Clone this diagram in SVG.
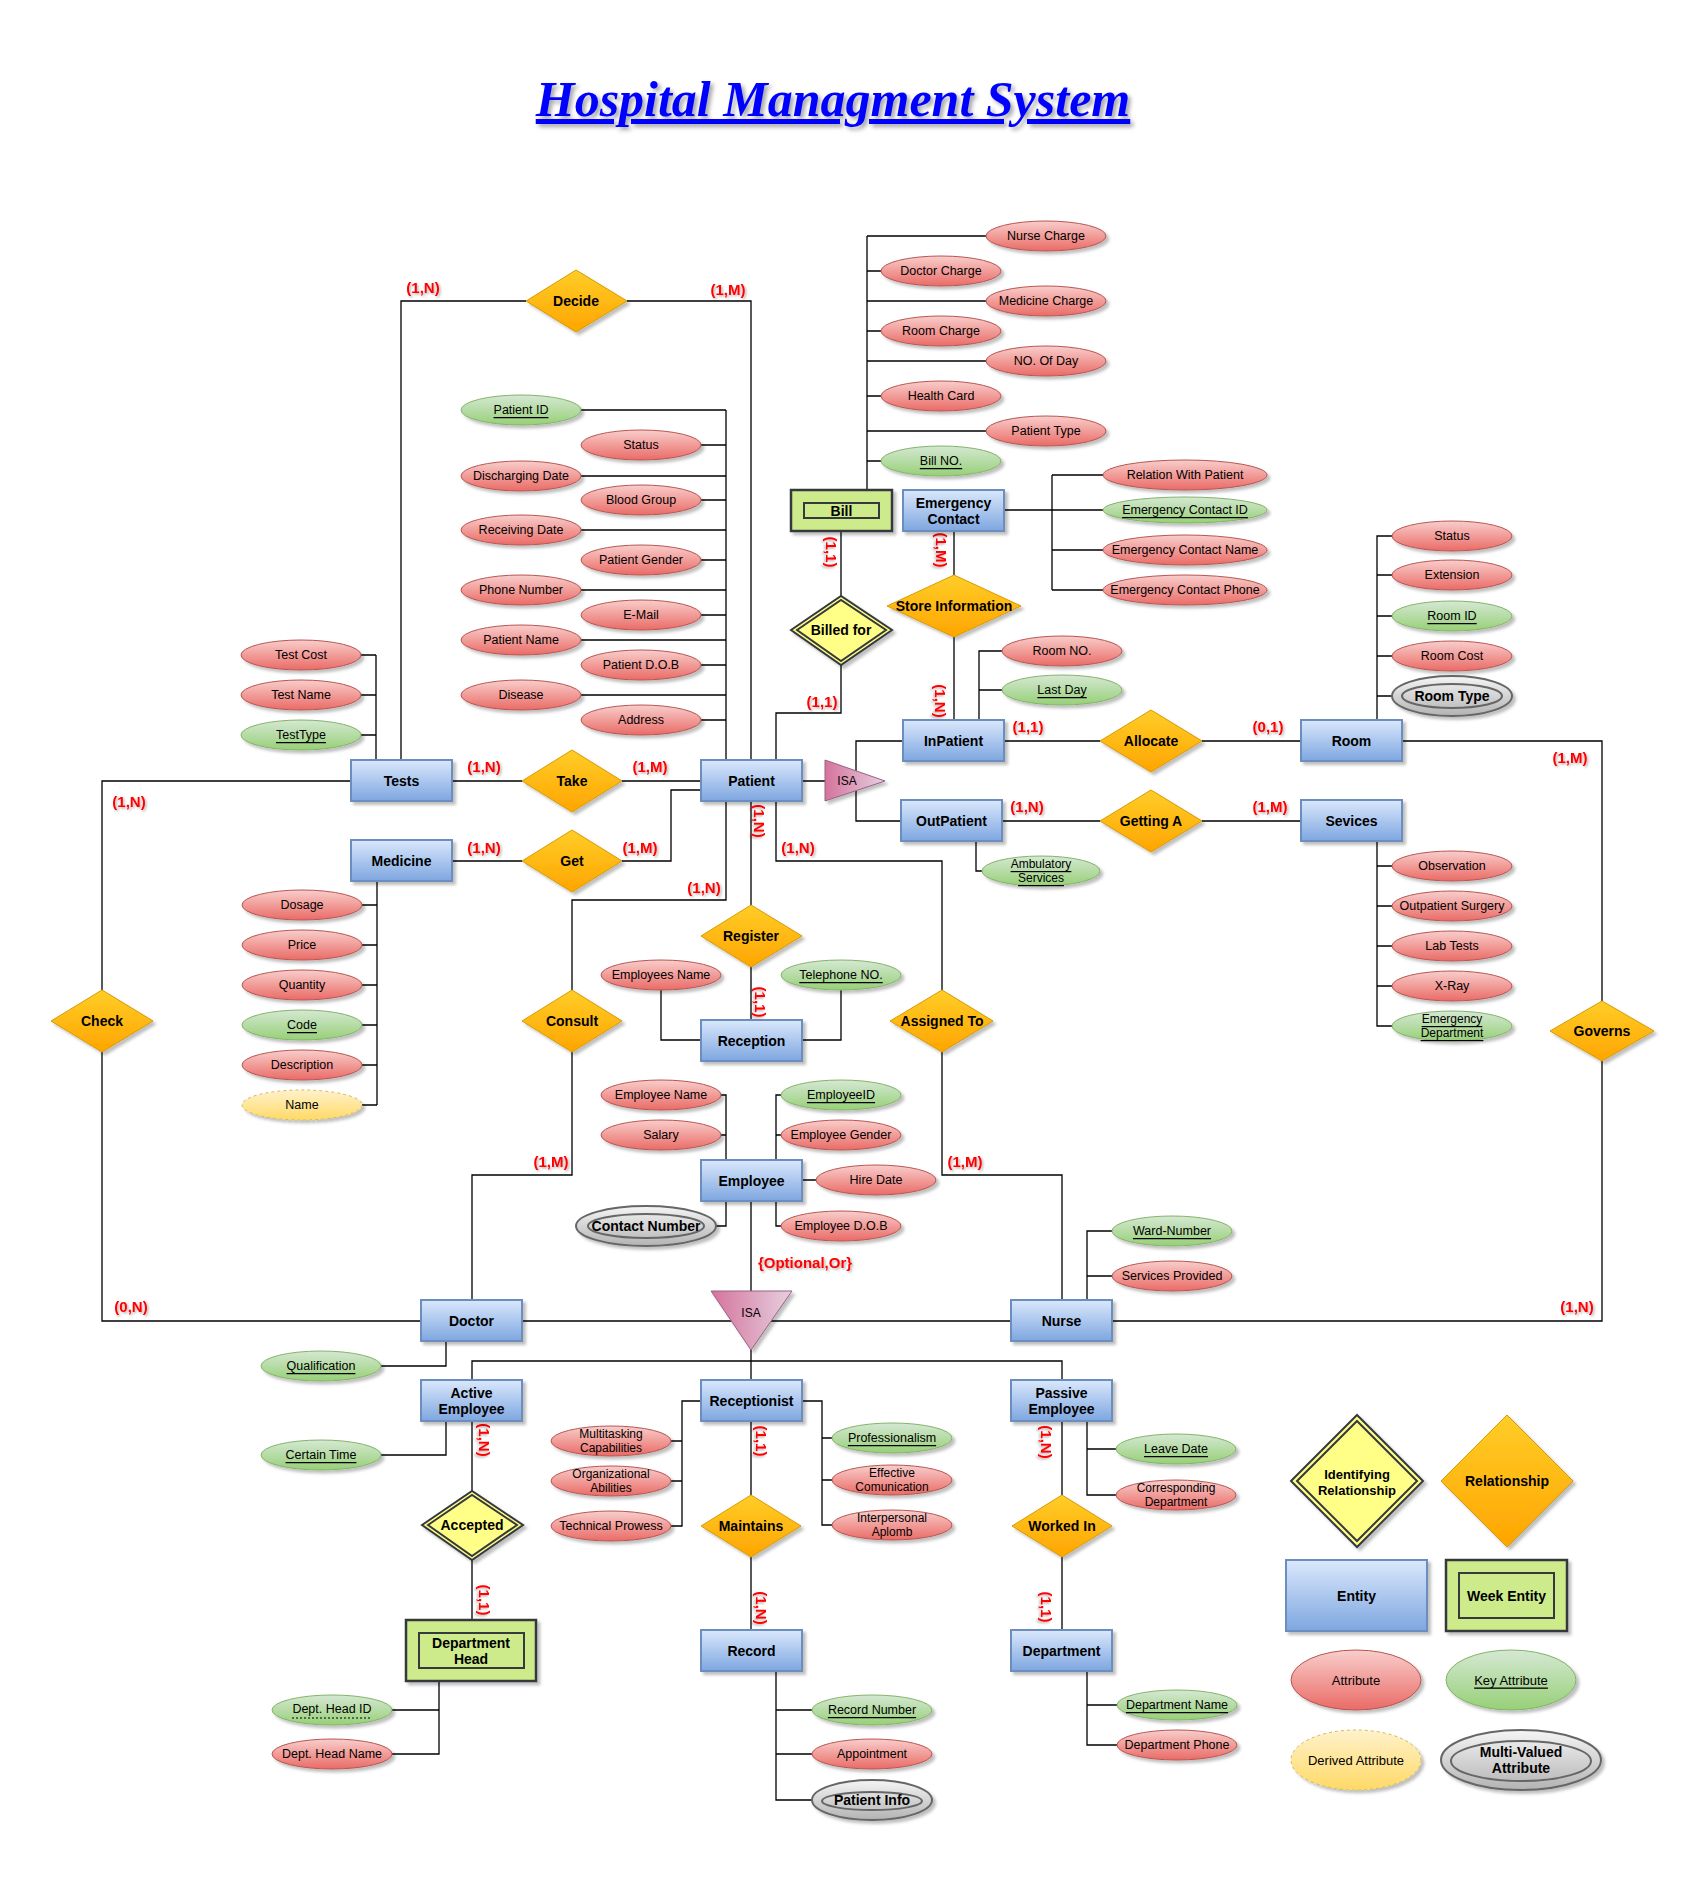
<svg xmlns="http://www.w3.org/2000/svg" width="1708" height="1878" viewBox="0 0 1708 1878">
<defs>
<linearGradient id="gEnt" x1="0" y1="0" x2="0" y2="1"><stop offset="0" stop-color="#dae8fc"/><stop offset="1" stop-color="#7ea6e0"/></linearGradient>
<linearGradient id="gAttr" x1="0" y1="0" x2="0" y2="1"><stop offset="0" stop-color="#f8cecc"/><stop offset="1" stop-color="#ea6b66"/></linearGradient>
<linearGradient id="gKey" x1="0" y1="0" x2="0" y2="1"><stop offset="0" stop-color="#d5e8d4"/><stop offset="1" stop-color="#97d077"/></linearGradient>
<linearGradient id="gRel" x1="0" y1="0" x2="0" y2="1"><stop offset="0" stop-color="#ffcd28"/><stop offset="1" stop-color="#ffa500"/></linearGradient>
<linearGradient id="gDer" x1="0" y1="0" x2="0" y2="1"><stop offset="0" stop-color="#fff2cc"/><stop offset="1" stop-color="#ffd966"/></linearGradient>
<linearGradient id="gMv" x1="0" y1="0" x2="0" y2="1"><stop offset="0" stop-color="#f5f5f5"/><stop offset="1" stop-color="#b3b3b3"/></linearGradient>
<linearGradient id="gIsa" x1="0" y1="0" x2="1" y2="0"><stop offset="0" stop-color="#d5739d"/><stop offset="1" stop-color="#e6d0de"/></linearGradient>
<filter id="sh" x="-20%" y="-30%" width="150%" height="170%"><feDropShadow dx="3" dy="3" stdDeviation="1.5" flood-color="#000" flood-opacity="0.25"/></filter>
<filter id="tsh" x="-20%" y="-40%" width="150%" height="190%"><feDropShadow dx="1.5" dy="1.5" stdDeviation="1" flood-color="#000" flood-opacity="0.3"/></filter>
<filter id="tsh2" x="-10%" y="-30%" width="130%" height="170%"><feDropShadow dx="3" dy="3" stdDeviation="2" flood-color="#000" flood-opacity="0.35"/></filter>
<style>
.ent{fill:url(#gEnt);stroke:#6c8ebf;stroke-width:2;filter:url(#sh)}
.attr{fill:url(#gAttr);stroke:#b85450;stroke-width:1;filter:url(#sh)}
.key{fill:url(#gKey);stroke:#82b366;stroke-width:1;filter:url(#sh)}
.rel{fill:url(#gRel);stroke:#d79b00;stroke-width:1;filter:url(#sh)}
.der{fill:url(#gDer);stroke:#d6b656;stroke-width:1;stroke-dasharray:3 3;filter:url(#sh)}
.mv{fill:url(#gMv);stroke:#666;stroke-width:2;filter:url(#sh)}
.mvi{fill:none;stroke:#666;stroke-width:2}
.weak{fill:#cdeb8b;stroke:#36393d;stroke-width:2.5;filter:url(#sh)}
.weaki{fill:none;stroke:#36393d;stroke-width:2}
.idr{fill:#ffff88;stroke:#36393d;stroke-width:2;filter:url(#sh)}
.idri{fill:none;stroke:#36393d;stroke-width:2}
.isa{fill:url(#gIsa);stroke:#996185;stroke-width:1;filter:url(#sh)}
.c{fill:none;stroke:#000;stroke-width:1.3}
.t{font-family:"Liberation Sans",Arial,sans-serif;text-anchor:middle;dominant-baseline:central;fill:#000}
.te{font-size:14px;font-weight:bold}
.ta{font-size:12.5px}
.t2{font-size:12px}
.tm{font-size:14px;font-weight:bold}
.u{text-decoration:underline}
.card{font-family:"Liberation Sans",Arial,sans-serif;text-anchor:middle;dominant-baseline:central;fill:#ff0000;font-size:15px;font-weight:bold;filter:url(#tsh)}
</style>
</defs>
<rect width="1708" height="1878" fill="#fff"/>

<text id="title" x="833" y="116" font-family="'Liberation Serif','Times New Roman',serif" font-weight="bold" font-style="italic" font-size="50" fill="#0000ff" text-decoration="underline" text-anchor="middle" filter="url(#tsh2)">Hospital Managment System</text>

<g id="connectors">
<path class="c" d="M401 760 V301 H526 M627 301 H751 V760"/>
<path class="c" d="M452 781 H522 M622 781 H701"/>
<path class="c" d="M452 861 H522 M622 861 H671 V790 H701"/>
<path class="c" d="M726 801 V900 H572 V990 M572 1052 V1175 H472 V1300"/>
<path class="c" d="M751 801 V905 M751 967 V1020"/>
<path class="c" d="M776 801 V861 H942 V990 M942 1052 V1175 H1062 V1300"/>
<path class="c" d="M351 781 H102 V990 M102 1052 V1321 H421"/>
<path class="c" d="M1402 741 H1602 V1001 M1602 1061 V1321 H1112"/>
<path class="c" d="M841 531 V596 M841 665 V713 H776 V760"/>
<path class="c" d="M954 531 V575 M954 637 V720"/>
<path class="c" d="M1004 741 H1100 M1202 741 H1301"/>
<path class="c" d="M1002 821 H1100 M1202 821 H1301"/>
<path class="c" d="M802 781 H825 M903 741 H856 V821 H901"/>
<path class="c" d="M751 1201 V1291 M522 1321 H1011 M751 1350 V1380 M472 1380 V1361 H1062 V1380"/>
<path class="c" d="M472 1421 V1491 M472 1560 V1620"/>
<path class="c" d="M751 1421 V1495 M751 1557 V1630"/>
<path class="c" d="M1062 1421 V1495 M1062 1557 V1630"/>
<path class="c" d="M726 410 V760 M581 410 H726 M581 476 H726 M581 530 H726 M581 590 H726 M581 640 H726 M581 695 H726 M701 445 H726 M701 500 H726 M701 560 H726 M701 615 H726 M701 665 H726 M701 720 H726"/>
<path class="c" d="M376 655 V760 M361 655 H376 M361 695 H376 M361 735 H376"/>
<path class="c" d="M377 881 V1105 M362 905 H377 M362 945 H377 M362 985 H377 M362 1025 H377 M362 1065 H377 M362 1105 H377"/>
<path class="c" d="M867 236 V490 M986 236 H867 M881 271 H867 M986 301 H867 M881 331 H867 M986 361 H867 M881 396 H867 M986 431 H867 M881 461 H867"/>
<path class="c" d="M1004 510 H1103 M1052 475 V590 M1103 475 H1052 M1103 550 H1052 M1103 590 H1052"/>
<path class="c" d="M979 720 V651 H1002 M979 690 H1002"/>
<path class="c" d="M976 841 V871 H982"/>
<path class="c" d="M1377 720 V536 H1392 M1377 575 H1392 M1377 616 H1392 M1377 656 H1392 M1377 696 H1392"/>
<path class="c" d="M1377 841 V1026 H1392 M1377 866 H1392 M1377 906 H1392 M1377 946 H1392 M1377 986 H1392"/>
<path class="c" d="M661 990 V1040 H701 M841 990 V1040 H802"/>
<path class="c" d="M726 1160 V1095 H721 M721 1135 H726 M776 1160 V1095 H781 M776 1135 H781 M802 1180 H816 M726 1201 V1226 H716 M776 1201 V1226 H781"/>
<path class="c" d="M1087 1300 V1231 H1112 M1087 1276 H1112"/>
<path class="c" d="M446 1341 V1366 H381"/>
<path class="c" d="M446 1421 V1455 H381"/>
<path class="c" d="M439 1681 V1754 H392 M392 1710 H439"/>
<path class="c" d="M701 1401 H682 V1526 H671 M671 1441 H682 M671 1481 H682"/>
<path class="c" d="M802 1401 H822 V1525 H832 M832 1438 H822 M832 1480 H822"/>
<path class="c" d="M1087 1421 V1495 H1116 M1087 1449 H1116"/>
<path class="c" d="M776 1671 V1800 H812 M812 1710 H776 M812 1754 H776"/>
<path class="c" d="M1087 1671 V1745 H1117 M1087 1705 H1117"/>
</g>

<g id="cardinalities">
<text class="card" x="423" y="287">(1,N)</text>
<text class="card" x="728" y="289">(1,M)</text>
<text class="card" x="484" y="766">(1,N)</text>
<text class="card" x="650" y="766">(1,M)</text>
<text class="card" x="484" y="847">(1,N)</text>
<text class="card" x="640" y="847">(1,M)</text>
<text class="card" x="704" y="887">(1,N)</text>
<text class="card" x="551" y="1161">(1,M)</text>
<text class="card" x="760" y="821" transform="rotate(90 760 821)">(1,N)</text>
<text class="card" x="761" y="1002" transform="rotate(90 761 1002)">(1,1)</text>
<text class="card" x="798" y="847">(1,N)</text>
<text class="card" x="965" y="1161">(1,M)</text>
<text class="card" x="129" y="801">(1,N)</text>
<text class="card" x="131" y="1306">(0,N)</text>
<text class="card" x="1570" y="757">(1,M)</text>
<text class="card" x="1577" y="1306">(1,N)</text>
<text class="card" x="832" y="552" transform="rotate(90 832 552)">(1,1)</text>
<text class="card" x="822" y="701">(1,1)</text>
<text class="card" x="942" y="550" transform="rotate(90 942 550)">(1,M)</text>
<text class="card" x="941" y="701" transform="rotate(90 941 701)">(1,N)</text>
<text class="card" x="1028" y="726">(1,1)</text>
<text class="card" x="1268" y="726">(0,1)</text>
<text class="card" x="1027" y="806">(1,N)</text>
<text class="card" x="1270" y="806">(1,M)</text>
<text class="card" x="485" y="1440" transform="rotate(90 485 1440)">(1,N)</text>
<text class="card" x="485" y="1600" transform="rotate(90 485 1600)">(1,1)</text>
<text class="card" x="762" y="1441" transform="rotate(90 762 1441)">(1,1)</text>
<text class="card" x="762" y="1608" transform="rotate(90 762 1608)">(1,N)</text>
<text class="card" x="1047" y="1442" transform="rotate(90 1047 1442)">(1,N)</text>
<text class="card" x="1047" y="1607" transform="rotate(90 1047 1607)">(1,1)</text>
<text class="card" x="805" y="1262">{Optional,Or}</text>
</g>

<g id="e-tests"><rect class="ent" x="351" y="760" width="101" height="41"/><text class="t te" x="401.5" y="780.5">Tests</text></g>
<g id="e-patient"><rect class="ent" x="701" y="760" width="101" height="41"/><text class="t te" x="751.5" y="780.5">Patient</text></g>
<g id="e-medicine"><rect class="ent" x="351" y="840" width="101" height="41"/><text class="t te" x="401.5" y="860.5">Medicine</text></g>
<g id="e-bill"><rect class="weak" x="791" y="490" width="101" height="41"/><rect class="weaki" x="804" y="503" width="75" height="15"/><text class="t te" x="841.5" y="510.5">Bill</text></g>
<g id="e-emergency-contact"><rect class="ent" x="903" y="490" width="101" height="41"/><text class="t te"><tspan x="953.5" y="503">Emergency</tspan><tspan x="953.5" y="519">Contact</tspan></text></g>
<g id="e-inpatient"><rect class="ent" x="903" y="720" width="101" height="41"/><text class="t te" x="953.5" y="740.5">InPatient</text></g>
<g id="e-outpatient"><rect class="ent" x="901" y="800" width="101" height="41"/><text class="t te" x="951.5" y="820.5">OutPatient</text></g>
<g id="e-room"><rect class="ent" x="1301" y="720" width="101" height="41"/><text class="t te" x="1351.5" y="740.5">Room</text></g>
<g id="e-services"><rect class="ent" x="1301" y="800" width="101" height="41"/><text class="t te" x="1351.5" y="820.5">Sevices</text></g>
<g id="e-reception"><rect class="ent" x="701" y="1020" width="101" height="41"/><text class="t te" x="751.5" y="1040.5">Reception</text></g>
<g id="e-employee"><rect class="ent" x="701" y="1160" width="101" height="41"/><text class="t te" x="751.5" y="1180.5">Employee</text></g>
<g id="e-doctor"><rect class="ent" x="421" y="1300" width="101" height="41"/><text class="t te" x="471.5" y="1320.5">Doctor</text></g>
<g id="e-nurse"><rect class="ent" x="1011" y="1300" width="101" height="41"/><text class="t te" x="1061.5" y="1320.5">Nurse</text></g>
<g id="e-active-employee"><rect class="ent" x="421" y="1380" width="101" height="41"/><text class="t te"><tspan x="471.5" y="1393">Active</tspan><tspan x="471.5" y="1409">Employee</tspan></text></g>
<g id="e-receptionist"><rect class="ent" x="701" y="1380" width="101" height="41"/><text class="t te" x="751.5" y="1400.5">Receptionist</text></g>
<g id="e-passive-employee"><rect class="ent" x="1011" y="1380" width="101" height="41"/><text class="t te"><tspan x="1061.5" y="1393">Passive</tspan><tspan x="1061.5" y="1409">Employee</tspan></text></g>
<g id="e-department-head"><rect class="weak" x="406" y="1620" width="130" height="61"/><rect class="weaki" x="419" y="1633" width="105" height="35"/><text class="t te"><tspan x="471" y="1643">Department</tspan><tspan x="471" y="1659">Head</tspan></text></g>
<g id="e-record"><rect class="ent" x="701" y="1630" width="101" height="41"/><text class="t te" x="751.5" y="1650.5">Record</text></g>
<g id="e-department"><rect class="ent" x="1011" y="1630" width="101" height="41"/><text class="t te" x="1061.5" y="1650.5">Department</text></g>

<g id="r-decide"><polygon class="rel" points="526,301 576,270 627,301 576,332"/><text class="t te" x="576" y="301">Decide</text></g>
<g id="r-take"><polygon class="rel" points="522,781 572,750 622,781 572,812"/><text class="t te" x="572" y="781">Take</text></g>
<g id="r-get"><polygon class="rel" points="522,861 572,830 622,861 572,892"/><text class="t te" x="572" y="861">Get</text></g>
<g id="r-consult"><polygon class="rel" points="522,1021 572,990 622,1021 572,1052"/><text class="t te" x="572" y="1021">Consult</text></g>
<g id="r-check"><polygon class="rel" points="51,1021 102,990 153,1021 102,1052"/><text class="t te" x="102" y="1021">Check</text></g>
<g id="r-register"><polygon class="rel" points="701,936 751,905 802,936 751,967"/><text class="t te" x="751" y="936">Register</text></g>
<g id="r-assigned-to"><polygon class="rel" points="890,1021 942,990 993,1021 942,1052"/><text class="t te" x="942" y="1021">Assigned To</text></g>
<g id="r-store-information"><polygon class="rel" points="887,606 954,575 1021,606 954,637"/><text class="t te" x="954" y="606">Store Information</text></g>
<g id="r-allocate"><polygon class="rel" points="1100,741 1151,710 1202,741 1151,772"/><text class="t te" x="1151" y="741">Allocate</text></g>
<g id="r-getting-a"><polygon class="rel" points="1100,821 1151,790 1202,821 1151,852"/><text class="t te" x="1151" y="821">Getting A</text></g>
<g id="r-governs"><polygon class="rel" points="1550,1031 1602,1001 1654,1031 1602,1061"/><text class="t te" x="1602" y="1031">Governs</text></g>
<g id="r-maintains"><polygon class="rel" points="701,1526 751,1495 801,1526 751,1557"/><text class="t te" x="751" y="1526">Maintains</text></g>
<g id="r-worked-in"><polygon class="rel" points="1012,1526 1062,1495 1112,1526 1062,1557"/><text class="t te" x="1062" y="1526">Worked In</text></g>
<g id="r-billed-for"><polygon class="idr" points="791,630 841,596 892,630 841,665"/><polygon class="idri" points="797,630 841,600 886,630 841,661"/><text class="t te" x="841" y="630">Billed for</text></g>
<g id="r-accepted"><polygon class="idr" points="422,1525 472,1491 523,1525 472,1560"/><polygon class="idri" points="428,1525 472,1495 517,1525 472,1556"/><text class="t te" x="472" y="1525">Accepted</text></g>

<g id="isa-patient"><polygon class="isa" points="825,760 825,801 885,781"/><text class="t" font-size="12" x="847" y="781">ISA</text></g>
<g id="isa-employee"><polygon class="isa" points="711,1291 792,1291 751,1350"/><text class="t" font-size="12" x="751" y="1313">ISA</text></g>

<g id="a-patient-id"><ellipse class="key" cx="521" cy="410" rx="60" ry="15"/><text class="t ta u" x="521" y="410">Patient ID</text></g>
<g id="a-patient-status"><ellipse class="attr" cx="641" cy="445" rx="60" ry="15"/><text class="t ta" x="641" y="445">Status</text></g>
<g id="a-discharging-date"><ellipse class="attr" cx="521" cy="476" rx="60" ry="15"/><text class="t ta" x="521" y="476">Discharging Date</text></g>
<g id="a-blood-group"><ellipse class="attr" cx="641" cy="500" rx="60" ry="15"/><text class="t ta" x="641" y="500">Blood Group</text></g>
<g id="a-receiving-date"><ellipse class="attr" cx="521" cy="530" rx="60" ry="15"/><text class="t ta" x="521" y="530">Receiving Date</text></g>
<g id="a-patient-gender"><ellipse class="attr" cx="641" cy="560" rx="60" ry="15"/><text class="t ta" x="641" y="560">Patient Gender</text></g>
<g id="a-phone-number"><ellipse class="attr" cx="521" cy="590" rx="60" ry="15"/><text class="t ta" x="521" y="590">Phone Number</text></g>
<g id="a-email"><ellipse class="attr" cx="641" cy="615" rx="60" ry="15"/><text class="t ta" x="641" y="615">E-Mail</text></g>
<g id="a-patient-name"><ellipse class="attr" cx="521" cy="640" rx="60" ry="15"/><text class="t ta" x="521" y="640">Patient Name</text></g>
<g id="a-patient-dob"><ellipse class="attr" cx="641" cy="665" rx="60" ry="15"/><text class="t ta" x="641" y="665">Patient D.O.B</text></g>
<g id="a-disease"><ellipse class="attr" cx="521" cy="695" rx="60" ry="15"/><text class="t ta" x="521" y="695">Disease</text></g>
<g id="a-address"><ellipse class="attr" cx="641" cy="720" rx="60" ry="15"/><text class="t ta" x="641" y="720">Address</text></g>

<g id="a-test-cost"><ellipse class="attr" cx="301" cy="655" rx="60" ry="15"/><text class="t ta" x="301" y="655">Test Cost</text></g>
<g id="a-test-name"><ellipse class="attr" cx="301" cy="695" rx="60" ry="15"/><text class="t ta" x="301" y="695">Test Name</text></g>
<g id="a-testtype"><ellipse class="key" cx="301" cy="735" rx="60" ry="15"/><text class="t ta u" x="301" y="735">TestType</text></g>

<g id="a-dosage"><ellipse class="attr" cx="302" cy="905" rx="60" ry="15"/><text class="t ta" x="302" y="905">Dosage</text></g>
<g id="a-price"><ellipse class="attr" cx="302" cy="945" rx="60" ry="15"/><text class="t ta" x="302" y="945">Price</text></g>
<g id="a-quantity"><ellipse class="attr" cx="302" cy="985" rx="60" ry="15"/><text class="t ta" x="302" y="985">Quantity</text></g>
<g id="a-code"><ellipse class="key" cx="302" cy="1025" rx="60" ry="15"/><text class="t ta u" x="302" y="1025">Code</text></g>
<g id="a-description"><ellipse class="attr" cx="302" cy="1065" rx="60" ry="15"/><text class="t ta" x="302" y="1065">Description</text></g>
<g id="a-name"><ellipse class="der" cx="302" cy="1105" rx="60" ry="15"/><text class="t ta" x="302" y="1105">Name</text></g>

<g id="a-nurse-charge"><ellipse class="attr" cx="1046" cy="236" rx="60" ry="15"/><text class="t ta" x="1046" y="236">Nurse Charge</text></g>
<g id="a-doctor-charge"><ellipse class="attr" cx="941" cy="271" rx="60" ry="15"/><text class="t ta" x="941" y="271">Doctor Charge</text></g>
<g id="a-medicine-charge"><ellipse class="attr" cx="1046" cy="301" rx="60" ry="15"/><text class="t ta" x="1046" y="301">Medicine Charge</text></g>
<g id="a-room-charge"><ellipse class="attr" cx="941" cy="331" rx="60" ry="15"/><text class="t ta" x="941" y="331">Room Charge</text></g>
<g id="a-no-of-day"><ellipse class="attr" cx="1046" cy="361" rx="60" ry="15"/><text class="t ta" x="1046" y="361">NO. Of Day</text></g>
<g id="a-health-card"><ellipse class="attr" cx="941" cy="396" rx="60" ry="15"/><text class="t ta" x="941" y="396">Health Card</text></g>
<g id="a-patient-type"><ellipse class="attr" cx="1046" cy="431" rx="60" ry="15"/><text class="t ta" x="1046" y="431">Patient Type</text></g>
<g id="a-bill-no"><ellipse class="key" cx="941" cy="461" rx="60" ry="15"/><text class="t ta u" x="941" y="461">Bill NO.</text></g>

<g id="a-relation-with-patient"><ellipse class="attr" cx="1185" cy="475" rx="82" ry="15"/><text class="t ta" x="1185" y="475">Relation With Patient</text></g>
<g id="a-emergency-contact-id"><ellipse class="key" cx="1185" cy="510" rx="82" ry="13"/><text class="t ta u" x="1185" y="510">Emergency Contact ID</text></g>
<g id="a-emergency-contact-name"><ellipse class="attr" cx="1185" cy="550" rx="82" ry="15"/><text class="t ta" x="1185" y="550">Emergency Contact Name</text></g>
<g id="a-emergency-contact-phone"><ellipse class="attr" cx="1185" cy="590" rx="82" ry="15"/><text class="t ta" x="1185" y="590">Emergency Contact Phone</text></g>

<g id="a-room-no"><ellipse class="attr" cx="1062" cy="651" rx="60" ry="15"/><text class="t ta" x="1062" y="651">Room NO.</text></g>
<g id="a-last-day"><ellipse class="key" cx="1062" cy="690" rx="60" ry="15"/><text class="t ta u" x="1062" y="690">Last Day</text></g>
<g id="a-ambulatory-services"><ellipse class="key" cx="1041" cy="871" rx="59" ry="15"/><text class="t t2 u"><tspan x="1041" y="864">Ambulatory</tspan><tspan x="1041" y="878">Services</tspan></text></g>

<g id="a-room-status"><ellipse class="attr" cx="1452" cy="536" rx="60" ry="15"/><text class="t ta" x="1452" y="536">Status</text></g>
<g id="a-extension"><ellipse class="attr" cx="1452" cy="575" rx="60" ry="15"/><text class="t ta" x="1452" y="575">Extension</text></g>
<g id="a-room-id"><ellipse class="key" cx="1452" cy="616" rx="60" ry="15"/><text class="t ta u" x="1452" y="616">Room ID</text></g>
<g id="a-room-cost"><ellipse class="attr" cx="1452" cy="656" rx="60" ry="15"/><text class="t ta" x="1452" y="656">Room Cost</text></g>
<g id="a-room-type"><ellipse class="mv" cx="1452" cy="696" rx="60" ry="20"/><ellipse class="mvi" cx="1452" cy="696" rx="50" ry="12"/><text class="t tm" x="1452" y="696">Room Type</text></g>

<g id="a-observation"><ellipse class="attr" cx="1452" cy="866" rx="60" ry="15"/><text class="t ta" x="1452" y="866">Observation</text></g>
<g id="a-outpatient-surgery"><ellipse class="attr" cx="1452" cy="906" rx="60" ry="15"/><text class="t ta" x="1452" y="906">Outpatient Surgery</text></g>
<g id="a-lab-tests"><ellipse class="attr" cx="1452" cy="946" rx="60" ry="15"/><text class="t ta" x="1452" y="946">Lab Tests</text></g>
<g id="a-x-ray"><ellipse class="attr" cx="1452" cy="986" rx="60" ry="15"/><text class="t ta" x="1452" y="986">X-Ray</text></g>
<g id="a-emergency-department"><ellipse class="key" cx="1452" cy="1026" rx="60" ry="15"/><text class="t t2 u"><tspan x="1452" y="1019">Emergency</tspan><tspan x="1452" y="1033">Department</tspan></text></g>

<g id="a-employees-name"><ellipse class="attr" cx="661" cy="975" rx="60" ry="15"/><text class="t ta" x="661" y="975">Employees Name</text></g>
<g id="a-telephone-no"><ellipse class="key" cx="841" cy="975" rx="60" ry="15"/><text class="t ta u" x="841" y="975">Telephone NO.</text></g>

<g id="a-employee-name"><ellipse class="attr" cx="661" cy="1095" rx="60" ry="15"/><text class="t ta" x="661" y="1095">Employee Name</text></g>
<g id="a-salary"><ellipse class="attr" cx="661" cy="1135" rx="60" ry="15"/><text class="t ta" x="661" y="1135">Salary</text></g>
<g id="a-employeeid"><ellipse class="key" cx="841" cy="1095" rx="60" ry="15"/><text class="t ta u" x="841" y="1095">EmployeeID</text></g>
<g id="a-employee-gender"><ellipse class="attr" cx="841" cy="1135" rx="60" ry="15"/><text class="t ta" x="841" y="1135">Employee Gender</text></g>
<g id="a-hire-date"><ellipse class="attr" cx="876" cy="1180" rx="60" ry="15"/><text class="t ta" x="876" y="1180">Hire Date</text></g>
<g id="a-contact-number"><ellipse class="mv" cx="646" cy="1226" rx="70" ry="20"/><ellipse class="mvi" cx="646" cy="1226" rx="58" ry="12"/><text class="t tm" x="646" y="1226">Contact Number</text></g>
<g id="a-employee-dob"><ellipse class="attr" cx="841" cy="1226" rx="60" ry="15"/><text class="t ta" x="841" y="1226">Employee D.O.B</text></g>

<g id="a-ward-number"><ellipse class="key" cx="1172" cy="1231" rx="60" ry="15"/><text class="t ta u" x="1172" y="1231">Ward-Number</text></g>
<g id="a-services-provided"><ellipse class="attr" cx="1172" cy="1276" rx="60" ry="15"/><text class="t ta" x="1172" y="1276">Services Provided</text></g>

<g id="a-qualification"><ellipse class="key" cx="321" cy="1366" rx="60" ry="15"/><text class="t ta u" x="321" y="1366">Qualification</text></g>
<g id="a-certain-time"><ellipse class="key" cx="321" cy="1455" rx="60" ry="15"/><text class="t ta u" x="321" y="1455">Certain Time</text></g>
<g id="a-dept-head-id"><ellipse class="key" cx="332" cy="1710" rx="60" ry="15"/><text class="t ta" x="332" y="1709">Dept. Head ID</text><line x1="292" y1="1718" x2="372" y2="1718" stroke="#000" stroke-width="1.2" stroke-dasharray="2 2"/></g>
<g id="a-dept-head-name"><ellipse class="attr" cx="332" cy="1754" rx="60" ry="15"/><text class="t ta" x="332" y="1754">Dept. Head Name</text></g>

<g id="a-multitasking"><ellipse class="attr" cx="611" cy="1441" rx="60" ry="15"/><text class="t t2"><tspan x="611" y="1434">Multitasking</tspan><tspan x="611" y="1448">Capabilities</tspan></text></g>
<g id="a-organizational"><ellipse class="attr" cx="611" cy="1481" rx="60" ry="15"/><text class="t t2"><tspan x="611" y="1474">Organizational</tspan><tspan x="611" y="1488">Abilities</tspan></text></g>
<g id="a-technical-prowess"><ellipse class="attr" cx="611" cy="1526" rx="60" ry="15"/><text class="t ta" x="611" y="1526">Technical Prowess</text></g>
<g id="a-professionalism"><ellipse class="key" cx="892" cy="1438" rx="60" ry="15"/><text class="t ta u" x="892" y="1438">Professionalism</text></g>
<g id="a-effective-comunication"><ellipse class="attr" cx="892" cy="1480" rx="60" ry="15"/><text class="t t2"><tspan x="892" y="1473">Effective</tspan><tspan x="892" y="1487">Comunication</tspan></text></g>
<g id="a-interpersonal-aplomb"><ellipse class="attr" cx="892" cy="1525" rx="60" ry="15"/><text class="t t2"><tspan x="892" y="1518">Interpersonal</tspan><tspan x="892" y="1532">Aplomb</tspan></text></g>

<g id="a-leave-date"><ellipse class="key" cx="1176" cy="1449" rx="60" ry="15"/><text class="t ta u" x="1176" y="1449">Leave Date</text></g>
<g id="a-corresponding-department"><ellipse class="attr" cx="1176" cy="1495" rx="60" ry="15"/><text class="t t2"><tspan x="1176" y="1488">Corresponding</tspan><tspan x="1176" y="1502">Department</tspan></text></g>

<g id="a-record-number"><ellipse class="key" cx="872" cy="1710" rx="60" ry="15"/><text class="t ta u" x="872" y="1710">Record Number</text></g>
<g id="a-appointment"><ellipse class="attr" cx="872" cy="1754" rx="60" ry="15"/><text class="t ta" x="872" y="1754">Appointment</text></g>
<g id="a-patient-info"><ellipse class="mv" cx="872" cy="1800" rx="60" ry="20"/><ellipse class="mvi" cx="872" cy="1801" rx="50" ry="9"/><text class="t tm" x="872" y="1800">Patient Info</text></g>

<g id="a-department-name"><ellipse class="key" cx="1177" cy="1705" rx="60" ry="15"/><text class="t ta u" x="1177" y="1705">Department Name</text></g>
<g id="a-department-phone"><ellipse class="attr" cx="1177" cy="1745" rx="60" ry="15"/><text class="t ta" x="1177" y="1745">Department Phone</text></g>

<g id="legend">
<g id="lg-identifying"><polygon class="idr" points="1291,1481 1357,1415 1423,1481 1357,1547"/><polygon class="idri" points="1297,1481 1357,1421 1417,1481 1357,1541"/><text class="t" font-size="13" font-weight="bold"><tspan x="1357" y="1474">Identifying</tspan><tspan x="1357" y="1490">Relationship</tspan></text></g>
<g id="lg-relationship"><polygon class="rel" points="1441,1481 1507,1415 1573,1481 1507,1547"/><text class="t te" x="1507" y="1481">Relationship</text></g>
<g id="lg-entity"><rect class="ent" x="1286" y="1560" width="141" height="71"/><text class="t te" x="1356.5" y="1595.5">Entity</text></g>
<g id="lg-weak"><rect class="weak" x="1446" y="1560" width="121" height="71"/><rect class="weaki" x="1459" y="1573" width="95" height="45"/><text class="t te" x="1506.5" y="1595.5">Week Entity</text></g>
<g id="lg-attribute"><ellipse class="attr" cx="1356" cy="1680" rx="65" ry="30"/><text class="t" font-size="13" x="1356" y="1680">Attribute</text></g>
<g id="lg-key"><ellipse class="key" cx="1511" cy="1680" rx="65" ry="30"/><text class="t u" font-size="13" x="1511" y="1680">Key Attribute</text></g>
<g id="lg-derived"><ellipse class="der" cx="1356" cy="1760" rx="65" ry="30"/><text class="t" font-size="13" x="1356" y="1760">Derived Attribute</text></g>
<g id="lg-multivalued"><ellipse class="mv" cx="1521" cy="1760" rx="80" ry="30"/><ellipse class="mvi" cx="1521" cy="1761" rx="70" ry="20"/><text class="t te"><tspan x="1521" y="1752">Multi-Valued</tspan><tspan x="1521" y="1768">Attribute</tspan></text></g>
</g>
</svg>
